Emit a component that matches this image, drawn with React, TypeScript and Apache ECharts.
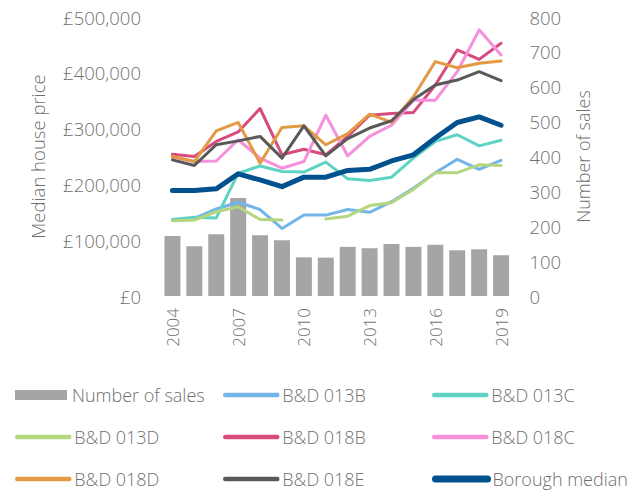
import React, { useEffect, useRef } from "react";
import * as echarts from "echarts";

const years = ["2004","2005","2006","2007","2008","2009","2010","2011","2012","2013","2014","2015","2016","2017","2018","2019"];
const sales = [172,143,177,281,174,160,111,110,141,137,149,141,147,131,134,117];
const bd013B = [137,139,156,168,155,121,145,145,155,150,169,193,221,245,227,243];
const bd013C = [137,141,140,220,233,223,222,240,210,207,213,247,277,289,269,279];
const bd013D = [135,136,151,160,137,136,null,138,143,162,167,191,221,221,235,234];
const bd018B = [254,250,277,294,336,253,263,253,286,324,327,329,378,441,424,453];
const bd018C = [249,241,242,280,247,229,241,324,251,286,306,351,351,402,477,432];
const bd018D = [250,241,296,311,238,302,305,271,291,326,311,357,420,409,417,421];
const bd018E = [244,234,271,278,286,247,305,251,282,301,314,352,378,387,402,386];
const borough = [189,189,192,219,208,196,213,213,225,227,242,253,283,311,321,306];

const lineDefs = [
  { name: "B&D 013B", data: bd013B, color: "#74b5e8", width: 3 },
  { name: "B&D 013C", data: bd013C, color: "#5ed3c4", width: 3 },
  { name: "B&D 013D", data: bd013D, color: "#b3d67e", width: 3 },
  { name: "B&D 018B", data: bd018B, color: "#d84b7c", width: 3 },
  { name: "B&D 018C", data: bd018C, color: "#f590dc", width: 3 },
  { name: "B&D 018D", data: bd018D, color: "#e29a45", width: 3 },
  { name: "B&D 018E", data: bd018E, color: "#595959", width: 3 },
  { name: "Borough median", data: borough, color: "#00518e", width: 5 },
];

// legend grid: [name, column, row]
const legendCells: [string, number, number][] = [
  ["Number of sales", 0, 0], ["B&D 013B", 1, 0], ["B&D 013C", 2, 0],
  ["B&D 013D", 0, 1], ["B&D 018B", 1, 1], ["B&D 018C", 2, 1],
  ["B&D 018D", 0, 2], ["B&D 018E", 1, 2], ["Borough median", 2, 2],
];
const legendCols = [15, 223, 432];
const legendRows = [395, 437, 479];

const FONT = "'Open Sans', sans-serif";
const TXT = "#707070";

export default function App() {
  const ref = useRef<HTMLDivElement>(null);
  useEffect(() => {
    document.body.style.margin = "0";
    const chart = echarts.init(ref.current!, null, { renderer: "svg" });
    const legendText = { color: TXT, fontSize: 18, fontFamily: FONT, fontWeight: 300, lineHeight: 22 };
    const legends = legendCells.map(([name, c, r]) => ({
      left: legendCols[c],
      top: legendRows[r] - 11,
      padding: 0,
      itemWidth: 52,
      itemHeight: 10,
      textStyle: legendText,
      data: [
        name === "Number of sales"
          ? { name, icon: "rect" }
          : {
              name,
              itemStyle: { opacity: 0 },
              lineStyle: { width: name === "Borough median" ? 7 : 4.5, cap: "round", opacity: 1 },
            },
      ],
    }));
    chart.setOption({
      animation: false,
      textStyle: { fontFamily: FONT },
      grid: { left: 161.5, right: 131, top: 17, bottom: 195 },
      legend: legends,
      xAxis: {
        type: "category",
        data: years,
        axisLine: { show: false },
        axisTick: { show: false },
        axisLabel: { interval: 2, rotate: 90, margin: 12, color: TXT, fontSize: 17, fontFamily: FONT, fontWeight: 300 },
      },
      yAxis: [
        {
          type: "value",
          min: 0,
          max: 500000,
          interval: 100000,
          name: "Median house price",
          nameLocation: "middle",
          nameRotate: 90,
          nameGap: 115,
          nameTextStyle: { color: TXT, fontSize: 18.5, fontFamily: FONT, fontWeight: 300 },
          splitLine: { show: false },
          axisLine: { show: false },
          axisTick: { show: false },
          axisLabel: {
            margin: 20.5,
            color: TXT,
            fontSize: 18.5,
            fontFamily: FONT,
            fontWeight: 300,
            formatter: (v: number) => "£" + v.toLocaleString("en-GB"),
          },
        },
        {
          type: "value",
          min: 0,
          max: 800,
          interval: 100,
          name: "Number of sales",
          nameLocation: "middle",
          nameRotate: 90,
          nameGap: 62,
          nameTextStyle: { color: TXT, fontSize: 18, fontFamily: FONT, fontWeight: 300 },
          splitLine: { show: false },
          axisLine: { show: false },
          axisTick: { show: false },
          axisLabel: { margin: 17.5, color: TXT, fontSize: 18.5, fontFamily: FONT, fontWeight: 300 },
        },
      ],
      series: [
        {
          name: "Number of sales",
          type: "bar",
          yAxisIndex: 1,
          data: sales,
          barCategoryGap: "27%",
          itemStyle: { color: "#a5a5a5" },
        },
        ...lineDefs.map((d) => ({
          name: d.name,
          type: "line",
          yAxisIndex: 0,
          data: d.data.map((v) => (v == null ? null : v * 1000)),
          symbol: "none",
          connectNulls: false,
          color: d.color,
          lineStyle: { color: d.color, width: d.width, cap: "round", join: "round" },
        })),
      ],
    });
    return () => chart.dispose();
  }, []);
  return <div ref={ref} style={{ width: 643, height: 491 }} />;
}
